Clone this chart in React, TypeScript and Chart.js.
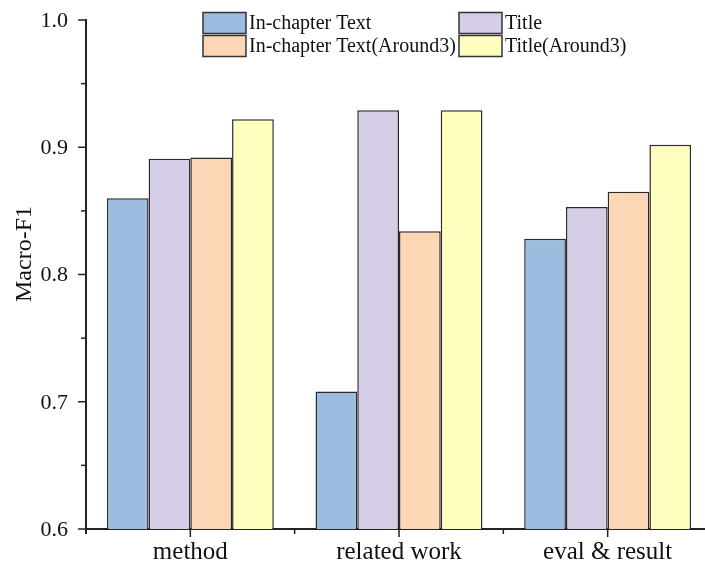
import React, { useEffect, useRef } from 'react';
import { Chart, registerables } from 'chart.js';

Chart.register(...registerables);

const categories = ['method', 'related work', 'eval & result'];
const seriesLabels = ['In-chapter Text', 'Title', 'In-chapter Text(Around3)', 'Title(Around3)'];
const inChapterText = [0.860, 0.708, 0.828];
const titleValues = [0.891, 0.929, 0.853];
const inChapterAround3 = [0.892, 0.834, 0.865];
const titleAround3 = [0.922, 0.929, 0.902];
const seriesColors = ['#9dbde0', '#d6cee6', '#fdd6b6', '#fefebe'];
const yMin = 0.6;
const yMax = 1.0;
const yMajorStep = 0.1;
const yMinorStep = 0.05;
const yTitle = 'Macro-F1';

const FONT = "'Liberation Serif', 'Times New Roman', serif";
const AXIS = '#222222';

const customPlugin = {
  id: 'custom',
  afterDraw(chart: any) {
    const ctx = chart.ctx;
    const xs = chart.scales.x;
    const ys = chart.scales.y;
    const area = chart.chartArea;
    ctx.save();
    ctx.fillStyle = AXIS;
    // y ticks (major 8px, minor 5px) + labels
    const nY = Math.round((yMax - yMin) / yMinorStep);
    const perMajor = Math.round(yMajorStep / yMinorStep);
    ctx.font = `22px ${FONT}`;
    ctx.textAlign = 'right';
    ctx.textBaseline = 'middle';
    for (let i = 0; i <= nY; i++) {
      const v = yMin + i * yMinorStep;
      const y = ys.getPixelForValue(v);
      const major = i % perMajor === 0;
      const len = major ? 8 : 5;
      ctx.fillStyle = AXIS;
      ctx.fillRect(area.left - len, y - 0.75, len, 1.5);
      if (major) {
        ctx.fillStyle = '#111';
        ctx.fillText(v.toFixed(1), area.left - 18, y + 1);
      }
    }
    ctx.fillStyle = AXIS;
    // x ticks: major at category centres, minor between categories
    for (let i = 0; i < categories.length; i++) {
      const x = xs.getPixelForValue(i);
      ctx.fillRect(x - 0.75, area.bottom, 1.5, 8);
    }
    for (let i = 0; i < categories.length - 1; i++) {
      const x = (xs.getPixelForValue(i) + xs.getPixelForValue(i + 1)) / 2;
      ctx.fillRect(x - 0.75, area.bottom, 1.5, 5);
    }
    ctx.fillRect(area.left - 1, area.bottom, 2, 5);

    // y title
    ctx.fillStyle = '#111';
    ctx.font = `24px ${FONT}`;
    ctx.textAlign = 'center';
    ctx.textBaseline = 'middle';
    ctx.translate(25, 254);
    ctx.rotate(-Math.PI / 2);
    ctx.fillText(yTitle, 0, 0);
    ctx.restore();

    // legend (2 columns)
    ctx.save();
    ctx.font = `20px ${FONT}`;
    ctx.textAlign = 'left';
    ctx.textBaseline = 'middle';
    const colX = [203, 459];
    const rowY = [12.5, 35.5];
    const bw = 43;
    const bh = 21;
    chart.data.datasets.forEach((ds: any, i: number) => {
      const col = i % 2;
      const row = Math.floor(i / 2);
      const x = colX[col];
      const y = rowY[row];
      ctx.fillStyle = ds.backgroundColor;
      ctx.fillRect(x, y, bw, bh);
      ctx.strokeStyle = '#333';
      ctx.lineWidth = 1.5;
      ctx.strokeRect(x, y, bw, bh);
      ctx.fillStyle = '#111';
      ctx.fillText(ds.label, x + bw + 3, y + bh / 2 + 1);
    });
    ctx.restore();
  },
};

export default function App() {
  const ref = useRef<HTMLCanvasElement>(null);
  useEffect(() => {
    if (!ref.current) return;
    const values = [inChapterText, titleValues, inChapterAround3, titleAround3];
    const chart = new Chart(ref.current, {
      type: 'bar',
      data: {
        labels: categories,
        datasets: seriesLabels.map((label, i) => ({
          label,
          data: values[i],
          backgroundColor: seriesColors[i],
          borderColor: '#2a2a2a',
          borderWidth: 1.5,
          borderSkipped: false,
          categoryPercentage: 0.8,
          barPercentage: 1.0,
        })),
      },
      options: {
        animation: false,
        responsive: false,
        maintainAspectRatio: false,
        layout: { padding: { left: 0, right: 8, top: 20, bottom: 0 } },
        plugins: { legend: { display: false }, tooltip: { enabled: false } },
        scales: {
          x: {
            afterFit: (s: any) => { s.height = 39; },
            grid: { display: true, offset: false, drawOnChartArea: false, drawTicks: true, tickLength: 8, tickColor: 'rgba(0,0,0,0)' },
            border: { display: true, color: AXIS, width: 2 },
            ticks: { color: '#111', font: { family: FONT, size: 25 }, padding: 0 },
          },
          y: {
            min: yMin,
            max: yMax,
            afterFit: (s: any) => { s.width = 86; },
            grid: { display: false },
            border: { display: true, color: AXIS, width: 2 },
            ticks: { display: false, stepSize: yMinorStep },
          },
        },
      },
      plugins: [customPlugin],
    });
    return () => chart.destroy();
  }, []);
  return (
    <div style={{ position: 'fixed', left: 0, top: 0, width: 720, height: 568, background: '#fff' }}>
      <canvas ref={ref} width={720} height={568} style={{ display: 'block' }} />
    </div>
  );
}
